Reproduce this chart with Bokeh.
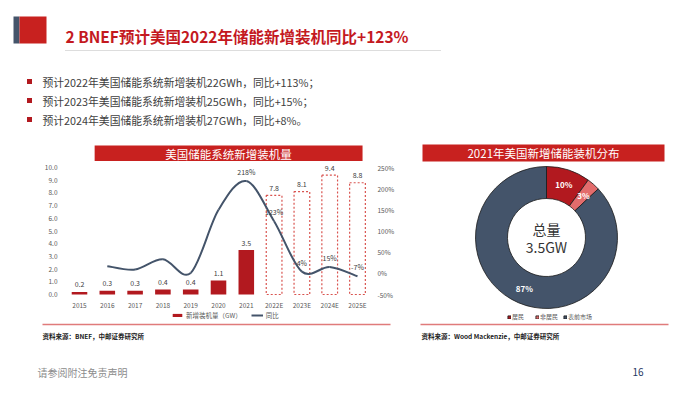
import numpy as np
from bokeh.plotting import figure
from bokeh.models import (Range1d, LinearAxis, FixedTicker, Legend, LegendItem,
                          NumeralTickFormatter)
from bokeh.layouts import column, row
from bokeh.embed import file_html
from bokeh.resources import INLINE
from bokeh.core.properties import value

# ---------------- data ----------------
title_text = "2 BNEF预计美国2022年储能新增装机同比+123%"
bullets = ["预计2022年美国储能系统新增装机22GWh，同比+113%；",
           "预计2023年美国储能系统新增装机25GWh，同比+15%；",
           "预计2024年美国储能系统新增装机27GWh，同比+8%。"]
bar_title = "美国储能系统新增装机量"
years = ["2015", "2016", "2017", "2018", "2019", "2020", "2021",
         "2022E", "2023E", "2024E", "2025E"]
capacity = [0.2, 0.3, 0.3, 0.4, 0.4, 1.1, 3.5, 7.8, 8.1, 9.4, 8.8]
n_actual = 7
growth_years = years[1:]
growth = [17, 9, 33, 1, 150, 218, 123, 4, 15, -7]
growth_labels = ["", "", "", "", "", "218%", "123%", "4%", "15%", "-7%"]
left_ticks = [0, 1, 2, 3, 4, 5, 6, 7, 8, 9, 10]
right_ticks = [-50, 0, 50, 100, 150, 200, 250]
right_tick_labels = ["-50%", "0%", "50%", "100%", "150%", "200%", "250%"]
legend_bar = "新增装机量（GW）"
legend_line = "同比"

donut_title = "2021年美国新增储能装机分布"
donut_cats = ["居民", "非居民", "表前市场"]
donut_shares = [10, 3, 87]
donut_total = "3.5GW"
donut_center_label = "总量"

source_left = "资料来源：BNEF，中邮证券研究所"
source_right = "资料来源：Wood Mackenzie，中邮证券研究所"
footer_left = "请参阅附注免责声明"
page_no = "16"

# ---------------- style ----------------
FONT = value("Noto Sans CJK SC")
RED = "#C4191F"
BAND_RED = "#C8211F"
BAR_RED = "#B2191F"
SLATE = "#44546A"
PINK = "#E36C6C"
donut_colors = [BAR_RED, PINK, SLATE]

W, H = 683, 395


def Y(sy):
    return H - sy


def blank(w, h, x0, x1, y0, y1):
    f = figure(width=w, height=h, x_range=Range1d(x0, x1), y_range=Range1d(y0, y1),
               output_backend="svg", toolbar_location=None, min_border=0,
               x_axis_location=None, y_axis_location=None)
    f.outline_line_color = None
    f.grid.visible = False
    f.background_fill_color = "white"
    f.border_fill_color = "white"
    return f


def txt(f, x, y, t, size, color, align="left", bold=False, **kw):
    f.text(x=x, y=y, text=t, text_font=FONT, text_font_size=size, text_color=color,
           text_align=align, text_baseline="middle",
           text_font_style="bold" if bold else "normal", **kw)


# ---------------- header (y 0..140) ----------------
f1 = blank(W, 140, 0, W, Y(140), Y(0))
f1.quad(left=[13], right=[19], bottom=[Y(43)], top=[Y(16)], fill_color=SLATE, line_color=None)
f1.quad(left=[19], right=[46], bottom=[Y(43)], top=[Y(16)], fill_color=BAND_RED, line_color=None)
txt(f1, [65], [Y(35)], [title_text], "15.5px", RED, bold=True)
f1.segment(x0=[65], y0=[Y(50)], x1=[440], y1=[Y(50)], line_color="#BBBBBB",
           line_dash="1 1", line_width=1)
by = [Y(81), Y(100), Y(119)]
f1.rect(x=[29] * 3, y=by, width=5, height=5, fill_color=BAR_RED, line_color=None)
txt(f1, [42] * 3, by, bullets, "10.8px", "#404040")

# ---------------- bar chart band (y 140..161) ----------------
f2 = blank(405, 21, 0, 405, Y(161), Y(140))
f2.quad(left=[42], right=[392], bottom=[Y(161)], top=[Y(145)], fill_color=BAND_RED, line_color=None)
txt(f2, [217], [Y(153)], [bar_title], "11.5px", "white", align="center")

# ---------------- bar chart (y 161..321) ----------------
xs = list(range(len(years)))
ppu_x = 27.8
x_start = -(79 - 62) / ppu_x
x_end = x_start + 310 / ppu_x
ppu_y = 12.7
y_end = 10 + (167 - 161) / ppu_y
y_start = y_end - 160 / ppu_y

f3 = figure(width=405, height=160, x_range=Range1d(x_start, x_end),
            y_range=Range1d(y_start, y_end), output_backend="svg",
            toolbar_location=None, min_border_left=62, min_border_right=33,
            min_border_top=0, min_border_bottom=0)
f3.outline_line_color = None
f3.grid.visible = False
f3.background_fill_color = "white"
f3.border_fill_color = "white"
f3.extra_y_ranges = {"pct": Range1d(-50 + 30 * y_start, -50 + 30 * y_end)}

xa = f3.xaxis[0]
xa.fixed_location = 0
xa.ticker = FixedTicker(ticks=xs)
xa.major_label_overrides = {i: years[i] for i in xs}
ya = f3.yaxis[0]
ya.ticker = FixedTicker(ticks=left_ticks)
ya.formatter = NumeralTickFormatter(format="0.0")
ra = LinearAxis(y_range_name="pct", ticker=FixedTicker(ticks=right_ticks),
                major_label_overrides={t: l for t, l in zip(right_ticks, right_tick_labels)})
f3.add_layout(ra, "right")
for ax in [xa, ya, ra]:
    ax.axis_line_color = None
    ax.major_tick_line_color = None
    ax.minor_tick_line_color = None
    ax.major_tick_out = 0
    ax.major_tick_in = 0
    ax.major_label_text_font = "Noto Sans CJK SC"
    ax.major_label_text_font_size = "6.5px"
    ax.major_label_text_color = "#595959"
xa.major_label_standoff = 5
ya.major_label_standoff = 5
ra.major_label_standoff = 5

bars = f3.vbar(x=xs[:n_actual], top=capacity[:n_actual], width=0.56,
               fill_color=BAR_RED, line_color=None)
f3.vbar(x=xs[n_actual:], top=capacity[n_actual:], width=0.565, fill_color=None,
        line_color="#D9534F", line_dash="2 2", line_width=1.2)
txt(f3, xs, capacity, [f"{v:.1f}" for v in capacity], "7px", "#404040",
    align="center", y_offset=-7.5)

# smoothed growth line (Catmull-Rom drawn as cubic Bezier segments)
gx = np.array(xs[1:], dtype=float)
gy = np.array(growth, dtype=float)
px = np.concatenate([[gx[0]], gx, [gx[-1]]])
py = np.concatenate([[gy[0]], gy, [gy[-1]]])
n = len(gx)
x0 = px[1:n]; y0 = py[1:n]
x1 = px[2:n + 1]; y1 = py[2:n + 1]
cx0 = x0 + (px[2:n + 1] - px[0:n - 1]) / 6
cy0 = y0 + (py[2:n + 1] - py[0:n - 1]) / 6
cx1 = x1 - (px[3:n + 2] - px[1:n]) / 6
cy1 = y1 - (py[3:n + 2] - py[1:n]) / 6
line_r = f3.bezier(x0=x0, y0=y0, x1=x1, y1=y1, cx0=cx0, cy0=cy0, cx1=cx1, cy1=cy1,
                   line_color=SLATE, line_width=2, y_range_name="pct")
txt(f3, list(gx), growth, growth_labels, "7px", "#404040", align="center",
    y_offset=-9, y_range_name="pct")

leg = Legend(items=[LegendItem(label=legend_bar, renderers=[bars]),
                    LegendItem(label=legend_line, renderers=[line_r])],
             orientation="horizontal", location=(109, 1),
             label_text_font="Noto Sans CJK SC", label_text_font_size="6.5px",
             label_text_color="#595959", glyph_width=12, glyph_height=4,
             label_standoff=3, spacing=9, padding=0, margin=0,
             border_line_color=None, background_fill_alpha=0, label_height=8)
f3.add_layout(leg, "center")

# ---------------- donut (x 405..683, y 140..321) ----------------
f4 = blank(W - 405, 181, 405, W, Y(321), Y(140))
f4.quad(left=[422], right=[664], bottom=[Y(161)], top=[Y(144)], fill_color=BAND_RED, line_color=None)
txt(f4, [543], [Y(152.5)], [donut_title], "11.5px", "white", align="center")

cx, cy = 546, Y(237)
shares = np.array(donut_shares, dtype=float)
cum = np.concatenate([[0], np.cumsum(shares)]) / shares.sum()
starts = np.pi / 2 - 2 * np.pi * cum[:-1]
ends = np.pi / 2 - 2 * np.pi * cum[1:]
items = []
for i, cat in enumerate(donut_cats):
    r = f4.annular_wedge(x=[cx], y=[cy], inner_radius=39, outer_radius=71,
                         start_angle=[starts[i]], end_angle=[ends[i]], direction="clock",
                         fill_color=donut_colors[i], line_color="#1a1a1a", line_width=0.8)
    items.append(LegendItem(label=cat, renderers=[r]))
mids = (starts + ends) / 2
lr = 56
txt(f4, list(cx + lr * np.cos(mids)), list(cy + lr * np.sin(mids)),
    [f"{int(s)}%" for s in donut_shares], "8px", "white", align="center", bold=True)
txt(f4, [cx], [Y(228)], [donut_center_label], "14px", "#333333", align="center")
txt(f4, [cx], [Y(246)], [donut_total], "14px", "#333333", align="center")
leg2 = Legend(items=items, orientation="horizontal", location=(102, 0),
              label_text_font="Noto Sans CJK SC", label_text_font_size="6px",
              label_text_color="#595959", glyph_width=4, glyph_height=4,
              label_standoff=1, spacing=3, padding=0, margin=0,
              border_line_color=None, background_fill_alpha=0, label_height=7)
f4.add_layout(leg2, "center")

# ---------------- footer (y 321..395) ----------------
f5 = blank(W, H - 321, 0, W, Y(H), Y(321))
f5.segment(x0=[42, 420], y0=[Y(324)] * 2, x1=[390, 668], y1=[Y(324)] * 2,
           line_color="#E07B7B", line_width=1.5)
txt(f5, [42, 421], [Y(335)] * 2, [source_left, source_right], "6.5px", "#222222", bold=True)
txt(f5, [37], [Y(372)], [footer_left], "10px", "#8C8C8C")
txt(f5, [632], [Y(371)], [page_no], "10px", "#1F3864")

layout = column(f1, row(column(f2, f3, spacing=0), f4, spacing=0), f5, spacing=0)
open("out.html", "w").write(file_html(layout, INLINE))
